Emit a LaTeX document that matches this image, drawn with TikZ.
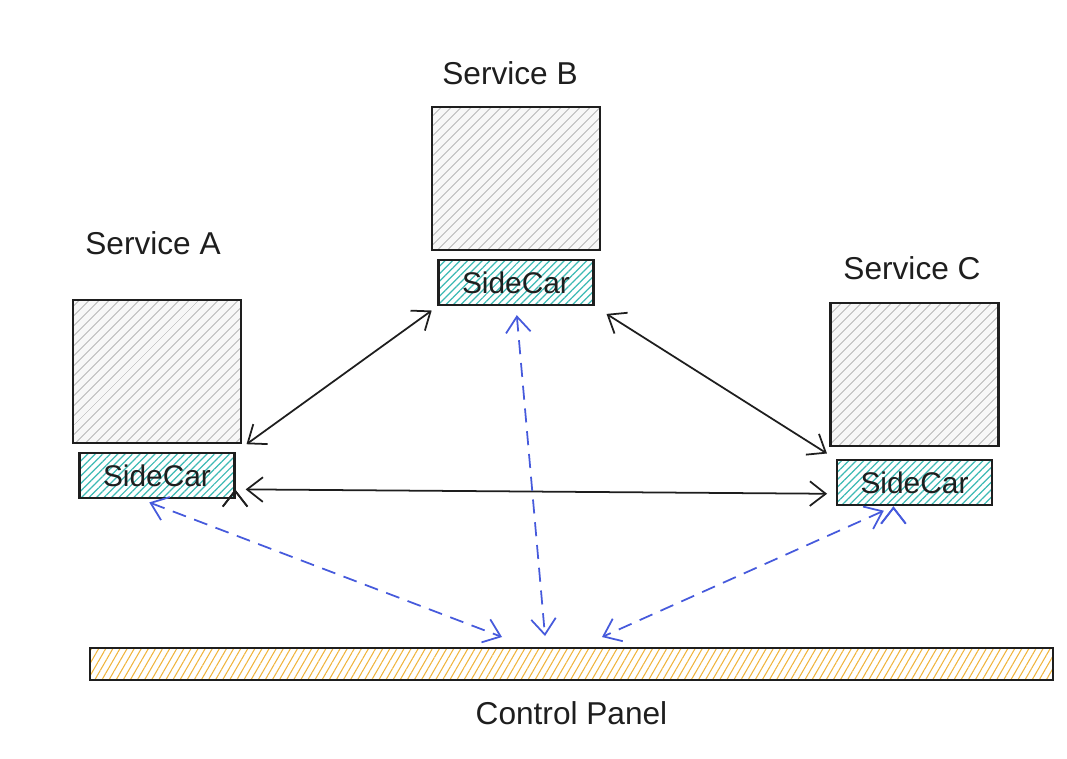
\documentclass[tikz,border=0pt]{standalone}
\usepackage{fontspec}
\setmainfont{Liberation Sans}
\usepackage{tikz}
\usetikzlibrary{positioning,arrows.meta,patterns.meta}
\definecolor{ink}{RGB}{30,30,30}
\definecolor{boxgray}{RGB}{175,175,175}
\definecolor{teal}{RGB}{60,185,180}
\definecolor{amber}{RGB}{240,180,60}
\definecolor{ctrlblue}{RGB}{70,90,220}
\tikzset{
	svc/.style={draw=ink,line width=1.3pt,minimum width=3.36cm,minimum height=2.86cm,
		preaction={fill=gray!6},pattern={Lines[angle=45,distance=4pt,line width=0.5pt]},pattern color=boxgray},
	car/.style={draw=ink,line width=1.3pt,minimum width=3.1cm,minimum height=0.9cm,inner sep=0pt,
		text=ink,font=\fontsize{17}{20}\selectfont,
		pattern={Lines[angle=45,distance=3pt,line width=0.7pt]},pattern color=teal},
	lbl/.style={text=ink,font=\fontsize{18}{20}\selectfont},
	link/.style={<->,draw=ink,line width=1pt},
	ctrl/.style={<->,draw=ctrlblue,line width=1pt,dash pattern=on 8pt off 5pt},
}
\begin{document}
\begin{tikzpicture}[x=0.02cm,y=-0.02cm,>={Straight Barb[length=9pt,width=14pt]}]
		\useasboundingbox (0,0) rectangle (1067,758);

		\node[svc] (sA) at (157,371.5) {};
		\node[svc] (sB) at (516,178.5) {};
		\node[svc] (sC) at (914.5,374.5) {};

		\node[car,below=1.8mm of sA] (scA) {SideCar};
		\node[car,below=1.6mm of sB] (scB) {SideCar};
		\node[car,below=2.4mm of sC] (scC) {SideCar};

		\node[lbl] (lA) at (153,243) {Service A};
		\node[lbl] (lB) at (510,73) {Service B};
		\node[lbl] (lC) at (912,268) {Service C};

		\node[draw=ink,line width=1.3pt,minimum width=19.26cm,minimum height=0.64cm,
			pattern={Lines[angle=60,distance=3.5pt,line width=0.6pt]},pattern color=amber]
			(cp) at (571.5,664) {};
		\node[lbl,below=3mm of cp] (lcp) {Control Panel};

		\coordinate (pA) at (502,637);
		\coordinate (pB) at (545,636);
		\coordinate (pC) at (602,637);

		\path[link]
			(scA.north east) edge[shorten <=8pt,shorten >=4pt] (scB.south west)
			(scB.south east) edge[shorten <=8pt,shorten >=6pt] (scC.north west)
			(scA.-10) edge[shorten <=6pt,shorten >=5pt] (scC.188)
		;
		\path[ctrl]
			([xshift=-10]scA.south) edge[shorten <=6pt] (pA)
			(scB.south) edge[shorten <=5pt] (pB)
			([xshift=-12]scC.south) edge[shorten <=6pt] (pC)
		;
	\end{tikzpicture}
\end{document}
